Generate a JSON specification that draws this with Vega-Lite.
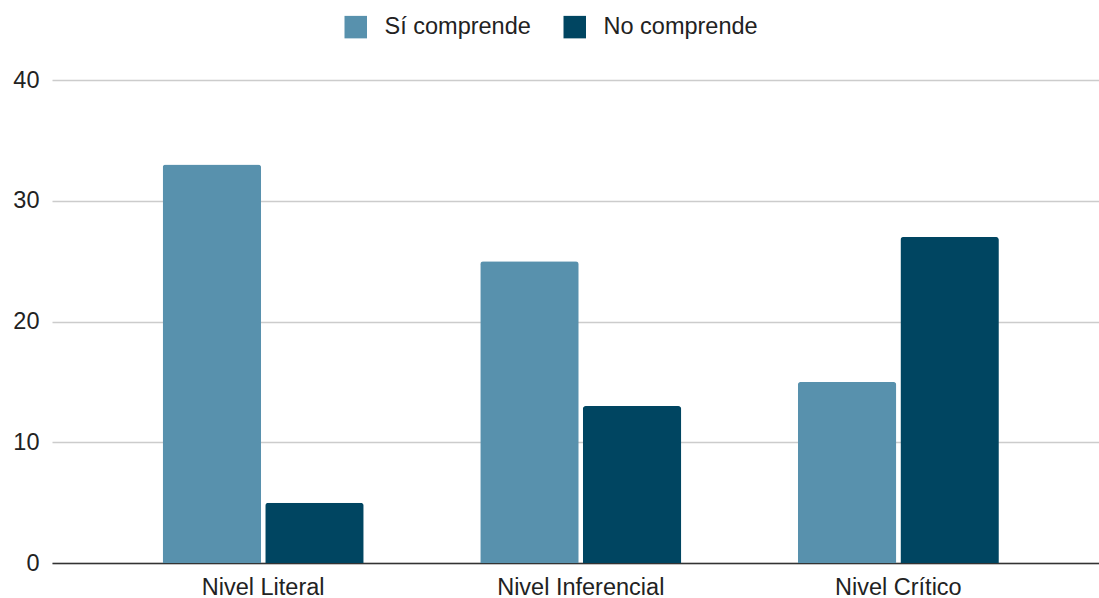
{
  "$schema": "https://vega.github.io/schema/vega-lite/v6.json",
  "width": 1049,
  "height": 483,
  "padding": {"left": 12, "top": 15, "right": 0, "bottom": 0},
  "autosize": {"type": "pad"},
  "background": "white",
  "data": {
    "values": [
      {"nivel": "Nivel Literal", "serie": "Sí comprende", "valor": 33},
      {"nivel": "Nivel Literal", "serie": "No comprende", "valor": 5},
      {"nivel": "Nivel Inferencial", "serie": "Sí comprende", "valor": 25},
      {"nivel": "Nivel Inferencial", "serie": "No comprende", "valor": 13},
      {"nivel": "Nivel Crítico", "serie": "Sí comprende", "valor": 15},
      {"nivel": "Nivel Crítico", "serie": "No comprende", "valor": 27}
    ]
  },
  "mark": {"type": "bar", "cornerRadiusTopLeft": 3, "cornerRadiusTopRight": 3},
  "encoding": {
    "x": {
      "field": "nivel",
      "type": "nominal",
      "sort": ["Nivel Literal", "Nivel Inferencial", "Nivel Crítico"],
      "scale": {"paddingInner": 0.367, "paddingOuter": 0.335, "align": 0.52},
      "axis": {
        "title": null,
        "labelAngle": 0,
        "ticks": false,
        "labelPadding": 12,
        "labelFontSize": 23.5,
        "labelFont": "Liberation Sans",
        "labelColor": "#222222",
        "domainColor": "#333333",
        "domainWidth": 1.5
      }
    },
    "xOffset": {
      "field": "serie",
      "type": "nominal",
      "sort": ["Sí comprende", "No comprende"],
      "scale": {"paddingInner": 0.04, "paddingOuter": 0}
    },
    "y": {
      "field": "valor",
      "type": "quantitative",
      "scale": {"domain": [0, 40]},
      "axis": {
        "title": null,
        "values": [0, 10, 20, 30, 40],
        "ticks": false,
        "domain": false,
        "labelPadding": 13,
        "labelFontSize": 23.5,
        "labelFont": "Liberation Sans",
        "labelColor": "#222222",
        "gridColor": "#cccccc",
        "gridWidth": 1.3
      }
    },
    "color": {
      "field": "serie",
      "type": "nominal",
      "sort": ["Sí comprende", "No comprende"],
      "scale": {"domain": ["Sí comprende", "No comprende"], "range": ["#5891ad", "#004561"]},
      "legend": {
        "title": null,
        "orient": "none",
        "direction": "horizontal",
        "legendX": 292,
        "legendY": -65,
        "symbolType": "square",
        "symbolSize": 506,
        "symbolStrokeWidth": 0,
        "symbolOpacity": 1,
        "labelFontSize": 23.5,
        "labelFont": "Liberation Sans",
        "labelColor": "#222222",
        "labelOffset": 17,
        "columnPadding": 32
      }
    }
  },
  "config": {"view": {"stroke": null}}
}
